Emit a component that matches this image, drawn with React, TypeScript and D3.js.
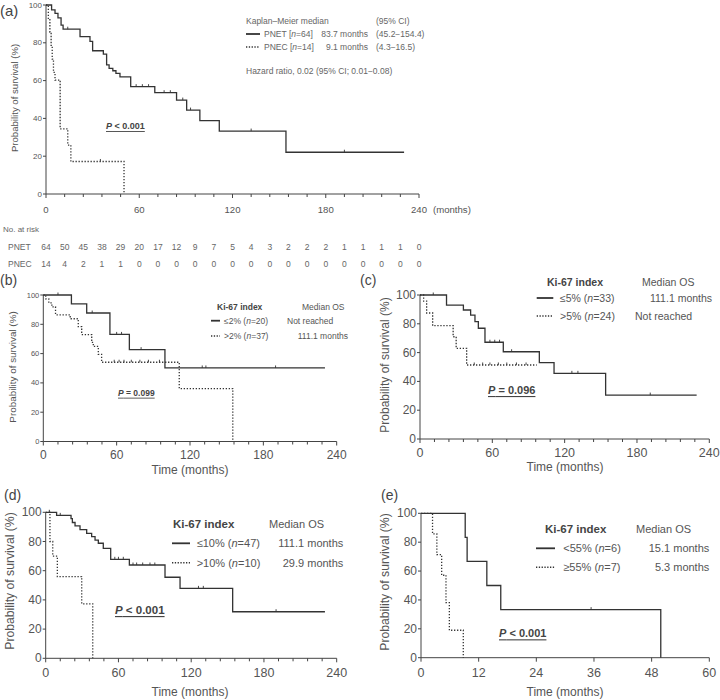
import React from 'react';
import * as d3 from 'd3';

const FONT = '"Liberation Sans", Arial, Helvetica, sans-serif';
const TXT = '#555';
const INK = '#333';

// ---------- Panel (a) data ----------
const pnetTimes = [0, 3.6, 5.8, 7.7, 9.7, 11, 21.9, 28.3, 30, 36.9, 39, 40.6, 43, 45, 47.6, 54.5, 70, 84, 90.5, 99, 111.5, 154.4];
const pnetSurv = [100, 97.4, 95.6, 93.2, 89.4, 87.2, 83.3, 80.8, 75.8, 74, 68.3, 66.5, 65.2, 63.8, 62, 56.8, 53.6, 49.7, 44.4, 38.8, 33.3, 22.1];
const pnetEnd = 230.4;
const pnetCensor = [14, 58, 62, 66, 76, 80, 88, 93, 132, 192];
const pnecTimes = [0, 1.5, 2.5, 3.3, 4, 4.8, 5.8, 9.1, 14, 16, 50.2];
const pnecSurv = [100, 92.9, 85.7, 78.6, 71.4, 64.3, 60.3, 34.5, 25.9, 17.2, 0];
const pnecCensor = [35];
const riskTimes = [0, 12, 24, 36, 48, 60, 72, 84, 96, 108, 120, 132, 144, 156, 168, 180, 192, 204, 216, 228, 240];
const pnetRisk = [64, 50, 45, 38, 29, 20, 17, 12, 9, 7, 5, 4, 3, 2, 2, 2, 1, 1, 1, 1, 0];
const pnecRisk = [14, 4, 2, 1, 1, 0, 0, 0, 0, 0, 0, 0, 0, 0, 0, 0, 0, 0, 0, 0, 0];

// ---------- Panel (b) data ----------
const bLowTimes = [0, 23, 35.5, 54.5, 70.4, 99.5];
const bLowSurv = [100, 94, 87.7, 73.1, 62.7, 50.2];
const bLowEnd = 230.4;
const bLowCensor = [12, 40, 60, 64, 80, 130, 133, 190];
const bHighTimes = [0, 2, 4.5, 7, 10, 22, 28.6, 31.4, 39.6, 40.9, 45, 47.7, 111.2, 155];
const bHighSurv = [100, 97.3, 94.6, 91.9, 86.5, 83.8, 78.4, 73, 67.6, 64.9, 59.5, 54.1, 36.1, 0];
const bHighCensor = [58, 62, 66, 72, 79, 86, 95];

// ---------- Panel (c) data ----------
const cLowTimes = [0, 22, 36, 42, 45.6, 48.4, 53.9, 69.1, 99, 111.2, 154];
const cLowSurv = [100, 93, 89.6, 86, 81.5, 76.9, 67.2, 60.6, 53, 45.6, 30.5];
const cLowEnd = 229.5;
const cLowCensor = [11, 58, 62, 66, 76, 126, 131, 191];
const cHighTimes = [0, 3, 5.5, 10.5, 27.5, 30, 38.7];
const cHighSurv = [100, 95.8, 87.5, 78.7, 71, 63, 51.4];
const cHighEnd = 96.8;
const cHighCensor = [45, 52, 58, 65, 72, 80, 88];

// ---------- Panel (d) data ----------
const dLowTimes = [0, 9, 20.9, 22, 24.2, 28.3, 33.8, 37.9, 40.7, 43.4, 47.5, 53.6, 69, 98.4, 110.8, 154.2];
const dLowSurv = [100, 97.9, 95.6, 93, 90.7, 88.2, 85.6, 83.3, 81, 78.8, 75.3, 67.8, 63.9, 55.5, 47.9, 31.9];
const dLowEnd = 230.3;
const dLowCensor = [3, 12, 57, 60, 64, 72, 75, 80, 86, 90, 126, 130, 190];
const dHighTimes = [0, 3.5, 5.8, 9.6, 29.7, 38.8];
const dHighSurv = [100, 80, 70, 56, 37.3, 0];

// ---------- Panel (e) data ----------
const eLowTimes = [0, 9.2, 9.6, 13.7, 16.6, 49.9];
const eLowSurv = [100, 83.3, 66.7, 50, 33.3, 0];
const eLowCensor = [35.4];
const eHighTimes = [0, 2.4, 3.3, 4.3, 5.2, 5.9, 8.8];
const eHighSurv = [100, 85.7, 71.4, 57.1, 38.1, 19, 0];

const yTickVals = [0, 20, 40, 60, 80, 100];

type Scale = d3.ScaleLinear<number, number>;

function stepAt(times: number[], surv: number[], t: number) {
  let v = surv[0];
  for (let i = 0; i < times.length; i++) if (times[i] <= t) v = surv[i];
  return v;
}

function Curve({ x, y, times, surv, end, censor, dotted }: { x: Scale; y: Scale; times: number[]; surv: number[]; end?: number; censor?: number[]; dotted?: boolean }) {
  const pts: [number, number][] = times.map((t, i) => [t, surv[i]]);
  if (end != null) pts.push([end, surv[surv.length - 1]]);
  const line = d3.line<[number, number]>().x(d => x(d[0])).y(d => y(d[1])).curve(d3.curveStepAfter);
  return (
    <g>
      <path d={line(pts) || ''} fill="none" stroke={INK} strokeWidth={dotted ? 1.3 : 1.3} strokeDasharray={dotted ? '1.3 1.7' : undefined} />
      {(censor || []).map((c, i) => {
        const yy = y(stepAt(times, surv, c));
        return <line key={i} x1={x(c)} x2={x(c)} y1={yy - 2.5} y2={yy} stroke={INK} strokeWidth={0.9} />;
      })}
    </g>
  );
}

function Axes({ x, y, majors, minorStep, xMax, xTickFs, yTickFs, xTickY, yLabelX, yLabelY, yLabelFs, xLabel, xLabelX, xLabelY }:
  { x: Scale; y: Scale; majors: number[]; minorStep?: number; xMax: number; xTickFs: number; yTickFs: number; xTickY: number; yLabelX: number; yLabelY: number; yLabelFs: number; xLabel?: boolean; xLabelX?: number; xLabelY?: number }) {
  const [x0, x1] = x.range();
  const [y0, y1] = y.range();
  const minors = minorStep ? d3.range(0, xMax + 0.001, minorStep).filter(v => !majors.includes(v)) : [];
  return (
    <g fontFamily={FONT}>
      <line x1={x0} x2={x1} y1={y0} y2={y0} stroke="#444" strokeWidth={1} />
      <line x1={x0} x2={x0} y1={y0} y2={y1} stroke="#444" strokeWidth={1} />
      {majors.map(v => <line key={'M' + v} x1={x(v)} x2={x(v)} y1={y0} y2={y0 + 4} stroke="#444" />)}
      {minors.map(v => <line key={'m' + v} x1={x(v)} x2={x(v)} y1={y0} y2={y0 + 3} stroke="#444" />)}
      {majors.map(v => <text key={'t' + v} x={x(v)} y={xTickY} textAnchor="middle" dominantBaseline="central" fontSize={xTickFs} fill={TXT}>{v}</text>)}
      {yTickVals.map(v => <line key={'y' + v} x1={x0 - 3} x2={x0} y1={y(v)} y2={y(v)} stroke="#444" />)}
      {yTickVals.map(v => <text key={'yt' + v} x={x0 - 4} y={y(v)} textAnchor="end" dominantBaseline="central" fontSize={yTickFs} fill={TXT}>{v}</text>)}
      <text transform={`translate(${yLabelX},${yLabelY}) rotate(-90)`} textAnchor="middle" dominantBaseline="central" fontSize={yLabelFs} fill={TXT}>Probability of survival (%)</text>
      {xLabel && <text x={xLabelX} y={xLabelY} textAnchor="middle" dominantBaseline="central" fontSize={12} fill={TXT}>Time (months)</text>}
    </g>
  );
}

function LegLine({ x1, x2, y, dotted }: { x1: number; x2: number; y: number; dotted?: boolean }) {
  return <line x1={x1} x2={x2} y1={y} y2={y} stroke={INK} strokeWidth={dotted ? 1.6 : 1.8} strokeDasharray={dotted ? '1.3 1.5' : undefined} />;
}

function T({ x, y, fs, children, anchor, bold, fill, underline }: any) {
  return (
    <text x={x} y={y} fontSize={fs} textAnchor={anchor || 'start'} dominantBaseline="central" fontWeight={bold ? 'bold' : 'normal'} fill={fill || TXT} fontFamily={FONT} style={underline ? { textDecoration: 'underline' } : undefined}>{children}</text>
  );
}

function PText({ x, y, fs, rel, val }: { x: number; y: number; fs: number; rel: string; val: string }) {
  return <T x={x} y={y} fs={fs} bold fill="#444" underline><tspan fontStyle="italic">P</tspan>{` ${rel} ${val}`}</T>;
}

export default function App() {
  const xa = d3.scaleLinear().domain([0, 240]).range([46, 419]);
  const ya = d3.scaleLinear().domain([0, 100]).range([194, 5]);
  const xb = d3.scaleLinear().domain([0, 240]).range([43.3, 336.7]);
  const yb = d3.scaleLinear().domain([0, 100]).range([441.5, 295]);
  const xc = d3.scaleLinear().domain([0, 240]).range([420, 709.3]);
  const yc = d3.scaleLinear().domain([0, 100]).range([439, 295]);
  const xd = d3.scaleLinear().domain([0, 240]).range([45.7, 336.7]);
  const yd = d3.scaleLinear().domain([0, 100]).range([658.3, 512.3]);
  const xe = d3.scaleLinear().domain([0, 60]).range([421, 709.3]);
  const ye = d3.scaleLinear().domain([0, 100]).range([657.7, 513.3]);
  const m240 = [0, 60, 120, 180, 240];
  const m60 = [0, 12, 24, 36, 48, 60];

  return (
    <svg width={720} height={700} style={{ position: 'absolute', left: 0, top: 0, background: '#fff' }} fontFamily={FONT}>
      <rect width={720} height={700} fill="#fff" />

      {/* ---------- (a) ---------- */}
      <T x={0} y={10} fs={15} fill="#444">(a)</T>
      <Axes x={xa} y={ya} majors={m240} minorStep={12} xMax={240} xTickFs={9.6} yTickFs={8} xTickY={209} yLabelX={14} yLabelY={98} yLabelFs={9.6} />
      <T x={433} y={209} fs={9.6}>(months)</T>
      <Curve x={xa} y={ya} times={pnetTimes} surv={pnetSurv} end={pnetEnd} censor={pnetCensor} />
      <Curve x={xa} y={ya} times={pnecTimes} surv={pnecSurv} censor={pnecCensor} dotted />
      <PText x={106} y={126} fs={9} rel="<" val="0.001" />
      <g>
        <T x={246} y={21} fs={8.5} fill="#666">Kaplan–Meier median</T>
        <T x={376} y={21} fs={8.5} fill="#666">(95% CI)</T>
        <LegLine x1={246} x2={260} y={34} />
        <T x={264} y={34} fs={8.5} fill="#666">PNET [<tspan fontStyle="italic">n</tspan>=64]</T>
        <T x={368} y={34} fs={8.5} fill="#666" anchor="end">83.7 months</T>
        <T x={376} y={34} fs={8.5} fill="#666">(45.2−154.4)</T>
        <LegLine x1={246} x2={260} y={47} dotted />
        <T x={264} y={47} fs={8.5} fill="#666">PNEC [<tspan fontStyle="italic">n</tspan>=14]</T>
        <T x={368} y={47} fs={8.5} fill="#666" anchor="end">9.1 months</T>
        <T x={376} y={47} fs={8.5} fill="#666">(4.3−16.5)</T>
        <T x={246} y={71} fs={8.5} fill="#666">Hazard ratio, 0.02 (95% CI; 0.01−0.08)</T>
      </g>
      <T x={3} y={229.5} fs={8} fill="#666">No. at risk</T>
      <T x={8} y={246.6} fs={8.5} fill="#666">PNET</T>
      <T x={8} y={264} fs={8.5} fill="#666">PNEC</T>
      {riskTimes.map((t, i) => <T key={'r1' + i} x={xa(t)} y={246.6} fs={8.5} anchor="middle" fill="#666">{pnetRisk[i]}</T>)}
      {riskTimes.map((t, i) => <T key={'r2' + i} x={xa(t)} y={264} fs={8.5} anchor="middle" fill="#666">{pnecRisk[i]}</T>)}

      {/* ---------- (b) ---------- */}
      <T x={0} y={280} fs={14} fill="#444">(b)</T>
      <Axes x={xb} y={yb} majors={m240} minorStep={12} xMax={240} xTickFs={12} yTickFs={7.5} xTickY={455} yLabelX={12} yLabelY={367} yLabelFs={9.9} xLabel xLabelX={190} xLabelY={470} />
      <Curve x={xb} y={yb} times={bLowTimes} surv={bLowSurv} end={bLowEnd} censor={bLowCensor} />
      <Curve x={xb} y={yb} times={bHighTimes} surv={bHighSurv} censor={bHighCensor} dotted />
      <PText x={118} y={392.7} fs={8.5} rel="=" val="0.099" />
      <T x={217} y={306.7} fs={8.5} bold fill="#444">Ki-67 index</T>
      <T x={302} y={306.7} fs={8.5}>Median OS</T>
      <LegLine x1={211} x2={220} y={320.7} />
      <T x={224} y={320.7} fs={8.5}>≤2% (<tspan fontStyle="italic">n</tspan>=20)</T>
      <T x={287} y={320.7} fs={8.5}>Not reached</T>
      <LegLine x1={211} x2={220} y={336} dotted />
      <T x={224} y={336} fs={8.5}>&gt;2% (<tspan fontStyle="italic">n</tspan>=37)</T>
      <T x={348} y={336} fs={8.5} anchor="end">111.1 months</T>

      {/* ---------- (c) ---------- */}
      <T x={360} y={280} fs={14} fill="#444">(c)</T>
      <Axes x={xc} y={yc} majors={m240} minorStep={12} xMax={240} xTickFs={12.5} yTickFs={12} xTickY={453.3} yLabelX={385} yLabelY={365} yLabelFs={12} xLabel xLabelX={565} xLabelY={466.7} />
      <Curve x={xc} y={yc} times={cLowTimes} surv={cLowSurv} end={cLowEnd} censor={cLowCensor} />
      <Curve x={xc} y={yc} times={cHighTimes} surv={cHighSurv} end={cHighEnd} censor={cHighCensor} dotted />
      <PText x={488} y={390} fs={11} rel="=" val="0.096" />
      <T x={547} y={282} fs={10.5} bold fill="#444">Ki-67 index</T>
      <T x={642} y={282} fs={10.5}>Median OS</T>
      <LegLine x1={536.7} x2={553.3} y={298} />
      <T x={560} y={298} fs={10.5}>≤5% (<tspan fontStyle="italic">n</tspan>=33)</T>
      <T x={650} y={298} fs={10.5}>111.1 months</T>
      <LegLine x1={536.7} x2={553.3} y={316} dotted />
      <T x={560} y={316} fs={10.5}>&gt;5% (<tspan fontStyle="italic">n</tspan>=24)</T>
      <T x={635} y={316} fs={10.5}>Not reached</T>

      {/* ---------- (d) ---------- */}
      <T x={4} y={495} fs={14} fill="#444">(d)</T>
      <Axes x={xd} y={yd} majors={m240} minorStep={12} xMax={240} xTickFs={12.5} yTickFs={12} xTickY={673.3} yLabelX={10} yLabelY={581} yLabelFs={12.2} xLabel xLabelX={190} xLabelY={691.7} />
      <Curve x={xd} y={yd} times={dLowTimes} surv={dLowSurv} end={dLowEnd} censor={dLowCensor} />
      <Curve x={xd} y={yd} times={dHighTimes} surv={dHighSurv} dotted />
      <PText x={115} y={610} fs={11.5} rel="<" val="0.001" />
      <T x={173} y={524} fs={11.5} bold fill="#444">Ki-67 index</T>
      <T x={269} y={524} fs={11}>Median OS</T>
      <LegLine x1={172} x2={190} y={543.3} />
      <T x={196.7} y={543.3} fs={11}>≤10% (<tspan fontStyle="italic">n</tspan>=47)</T>
      <T x={343.3} y={543.3} fs={11} anchor="end">111.1 months</T>
      <LegLine x1={172} x2={190} y={562.7} dotted />
      <T x={196.7} y={562.7} fs={11}>&gt;10% (<tspan fontStyle="italic">n</tspan>=10)</T>
      <T x={343.3} y={562.7} fs={11} anchor="end">29.9 months</T>

      {/* ---------- (e) ---------- */}
      <T x={381} y={495} fs={14} fill="#444">(e)</T>
      <Axes x={xe} y={ye} majors={m60} xMax={60} xTickFs={12.5} yTickFs={12} xTickY={672.7} yLabelX={385} yLabelY={582} yLabelFs={12.2} xLabel xLabelX={565} xLabelY={691.7} />
      <Curve x={xe} y={ye} times={eLowTimes} surv={eLowSurv} censor={eLowCensor} />
      <Curve x={xe} y={ye} times={eHighTimes} surv={eHighSurv} dotted />
      <PText x={499} y={633.3} fs={11} rel="<" val="0.001" />
      <T x={545} y={529} fs={11.5} bold fill="#444">Ki-67 index</T>
      <T x={636} y={529} fs={11}>Median OS</T>
      <LegLine x1={536} x2={555} y={548.3} />
      <T x={563.3} y={548.3} fs={11}>&lt;55%  (<tspan fontStyle="italic">n</tspan>=6)</T>
      <T x={709.3} y={548.3} fs={11} anchor="end">15.1 months</T>
      <LegLine x1={536} x2={555} y={567.3} dotted />
      <T x={563.3} y={567.3} fs={11}>≥55%  (<tspan fontStyle="italic">n</tspan>=7)</T>
      <T x={709.3} y={567.3} fs={11} anchor="end">5.3 months</T>
    </svg>
  );
}
